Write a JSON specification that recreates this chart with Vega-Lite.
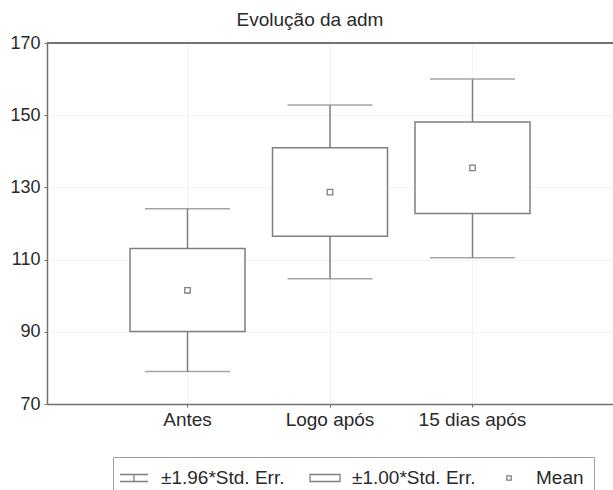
{
  "$schema": "https://vega.github.io/schema/vega-lite/v6.json",
  "width": 566,
  "height": 361,
  "autosize": {"type": "none"},
  "padding": {"left": 47, "top": 43, "right": 0, "bottom": 86},
  "background": "white",
  "title": {"text": "Evolução da adm", "font": "Liberation Sans", "fontSize": 19, "fontWeight": "normal", "color": "#2a2a2a", "offset": 4, "dx": -20},
  "config": {"view": {"stroke": null}, "font": "Liberation Sans"},
  "data": {"values": [
    {"cond": "Antes", "mean": 101.5, "lo1": 90.1, "hi1": 113.1, "lo2": 79.0, "hi2": 124.1},
    {"cond": "Logo após", "mean": 128.7, "lo1": 116.5, "hi1": 141.0, "lo2": 104.7, "hi2": 152.8},
    {"cond": "15 dias após", "mean": 135.4, "lo1": 122.8, "hi1": 148.1, "lo2": 110.5, "hi2": 160.0}
  ]},
  "layer": [
    {"mark": {"type": "rule", "strokeWidth": 1.5},
     "encoding": {
       "x": {"field": "cond", "type": "nominal", "sort": null,
         "scale": {"type": "band", "paddingInner": 0, "paddingOuter": 0.486},
         "axis": {"title": null, "labelAngle": 0, "bandPosition": 0.5, "grid": true, "gridColor": "#f2f2f2", "tickSize": 3, "tickColor": "#707070", "domainColor": "#707070", "domainWidth": 1.5, "labelFontSize": 19, "labelFont": "Liberation Sans", "labelColor": "#2a2a2a", "labelPadding": 3}},
       "y": {"field": "lo2", "type": "quantitative",
         "scale": {"domain": [70, 170], "nice": false, "zero": false},
         "axis": {"title": null, "values": [70, 90, 110, 130, 150, 170], "grid": true, "gridColor": "#f2f2f2", "tickSize": 3, "tickColor": "#707070", "domainColor": "#707070", "domainWidth": 1.5, "labelFontSize": 18, "labelFont": "Liberation Sans", "labelColor": "#2a2a2a", "labelPadding": 4}},
       "y2": {"field": "hi2"},
       "stroke": {"datum": "±1.96*Std. Err.",
         "scale": {"domain": ["±1.96*Std. Err.", "±1.00*Std. Err.", "Mean"], "range": ["#7f7f7f", "#7f7f7f", "#7f7f7f"]},
         "legend": {"title": null, "orient": "none", "legendX": 66, "legendY": 414, "direction": "horizontal",
           "strokeColor": "#a0a0a0", "fillColor": "white", "padding": 10, "columnPadding": 22,
           "labelOffset": 16, "symbolSize": 400, "symbolStrokeWidth": 1.3,
           "labelFontSize": 19, "labelFont": "Liberation Sans", "labelColor": "#2a2a2a",
           "encode": {"symbols": {"update": {
             "shape": {"signal": "datum.value == 'Mean' ? 'M-0.22,-0.22H0.22V0.22H-0.22Z' : (datum.value == '±1.00*Std. Err.' ? 'M-1.5,-0.35H1.5V0.35H-1.5Z' : 'M-1.4,-0.35H1.4M0,-0.35V0.35M-1.4,0.35H1.4')"},
             "fill": {"value": "transparent"},
             "stroke": {"value": "#7f7f7f"},
             "strokeWidth": {"value": 1.3}
           }}}}}
     }},
    {"mark": {"type": "tick", "orient": "horizontal", "size": 85, "thickness": 1.5, "color": "#7f7f7f"},
     "encoding": {
       "x": {"field": "cond", "type": "nominal", "sort": null},
       "y": {"field": "lo2", "type": "quantitative"}}},
    {"mark": {"type": "tick", "orient": "horizontal", "size": 85, "thickness": 1.5, "color": "#7f7f7f"},
     "encoding": {
       "x": {"field": "cond", "type": "nominal", "sort": null},
       "y": {"field": "hi2", "type": "quantitative"}}},
    {"mark": {"type": "bar", "width": 115, "fill": "white", "strokeWidth": 1.5},
     "encoding": {
       "x": {"field": "cond", "type": "nominal", "sort": null},
       "y": {"field": "lo1", "type": "quantitative"},
       "y2": {"field": "hi1"},
       "stroke": {"datum": "±1.00*Std. Err."}
     }},
    {"mark": {"type": "point", "shape": "square", "size": 30, "filled": false, "strokeWidth": 1.3, "opacity": 1},
     "encoding": {
       "x": {"field": "cond", "type": "nominal", "sort": null},
       "y": {"field": "mean", "type": "quantitative"},
       "stroke": {"datum": "Mean"}
     }},
    {"mark": {"type": "rule", "strokeWidth": 1.5, "color": "#707070"},
     "encoding": {"y": {"datum": 170}}}
  ]
}
